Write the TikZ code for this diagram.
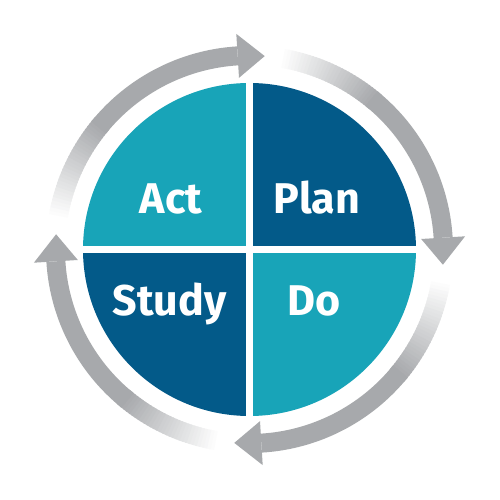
\documentclass[tikz,border=0pt]{standalone}
\usepackage{fontspec}
\setmainfont{Fira Sans}
\usepackage{tikz}
\definecolor{tealpart}{HTML}{18A4B8}
\definecolor{bluepart}{HTML}{035A89}
\definecolor{arrowgray}{HTML}{A7A9AC}

\begin{document}
\begin{tikzpicture}[x=1pt,y=1pt,
  phase/.style={text=white, anchor=base, inner sep=0pt, font=\fontsize{43}{43}\selectfont\bfseries},
  band/.style={line width=19pt, line cap=butt}]
\useasboundingbox[fill=white] (-249.5,-250.5) rectangle (250.5,249.5);

% quarters of the wheel
\begin{scope}
  \clip (0,0) circle (166.5);
  \fill[tealpart] (-170,3.25) rectangle (-3.25,170);
  \fill[bluepart] (3.25,3.25) rectangle (170,170);
  \fill[bluepart] (-170,-3.25) rectangle (-3.25,-170);
  \fill[tealpart] (3.25,-3.25) rectangle (170,-170);
\end{scope}

\node[phase] (act)   at (-78.5,35.5)  {Act};
\node[phase] (plan)  at (67.5,35.5)   {Plan};
\node[phase] (study) at (-80,-65.5)   {Study};
\node[phase] (do)    at (64.5,-65.5)  {Do};

% cycle arrows, fading at the tail
\foreach \k in {0,...,3}{
  \pgfmathsetmacro{\s}{170-90*\k}
  \pgfmathsetmacro{\b}{93.5-90*\k}
  \pgfmathsetmacro{\t}{85.5-90*\k}
  \pgfmathsetmacro{\m}{\s-29}
  \foreach \i in {0,...,29}{
    \pgfmathsetmacro{\a}{\s-\i}
    \pgfmathsetmacro{\e}{\a-1.5}
    \pgfmathtruncatemacro{\p}{100*(\i+1)/30}
    \draw[band, arrowgray!\p!white] (\a:194) arc[start angle=\a, end angle=\e, radius=194];
  }
  \draw[band, arrowgray] (\m:194) arc[start angle=\m, end angle=\b, radius=194];
  \fill[arrowgray] (\b:172) -- (\t:194) -- (\b:216) -- cycle;
}
\end{tikzpicture}
\end{document}
